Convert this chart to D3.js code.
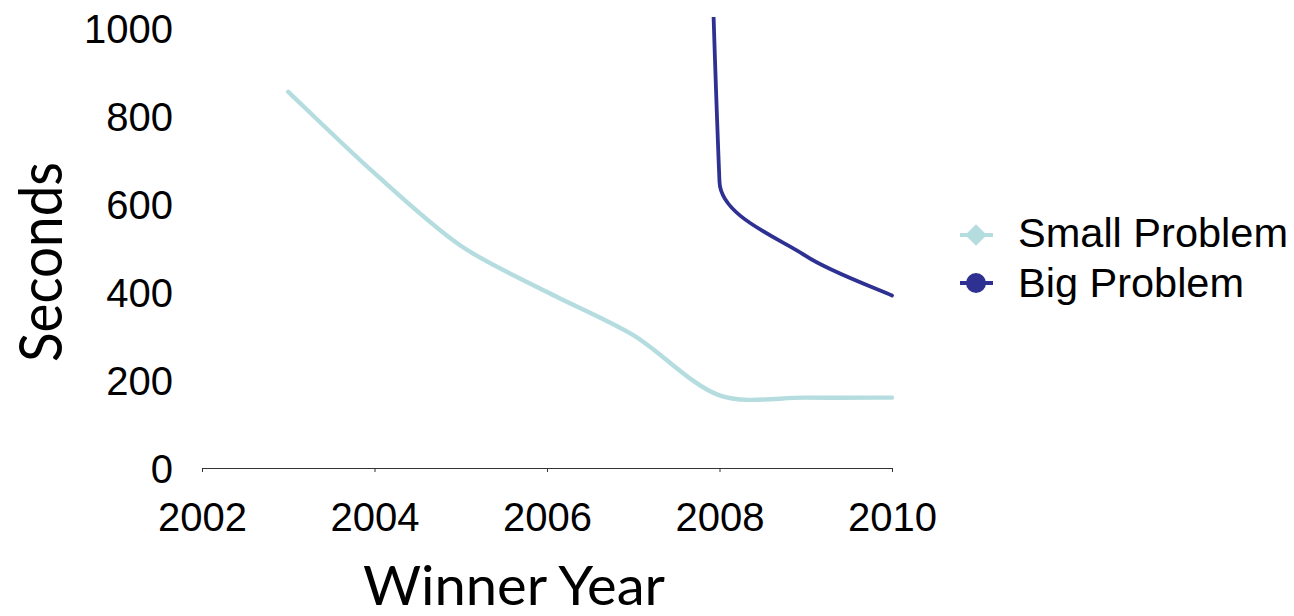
<!DOCTYPE html>
<html>
<head>
<meta charset="utf-8">
<script src="https://cdn.jsdelivr.net/npm/d3@7"></script>
<style>
  html, body { margin: 0; padding: 0; background: #fff; }
  svg { display: block; }
</style>
</head>
<body>
<svg id="chart" width="1294" height="616"></svg>
<script>
// Winning solver times per year (seconds)
const years = [2003, 2004, 2005, 2006, 2007, 2008, 2009, 2010];
const smallProblem = [855, 670, 505, 400, 302, 165, 160, 160];
const bigYears = [2007, 2008, 2009, 2010];
const bigProblem = [10000, 650, 482, 392];
const xTicks = [2002, 2004, 2006, 2008, 2010];
const yTicks = [0, 200, 400, 600, 800, 1000];
const seriesNames = ["Small Problem", "Big Problem"];
const seriesColors = ["#b5dde0", "#2e3192"];

const svg = d3.select("#chart");
const tickFont = "'Liberation Sans', Arial, Helvetica, sans-serif";
const titleFont = "Lato, 'Open Sans', sans-serif";

const x = d3.scaleLinear().domain([2002, 2010]).range([202, 892]);
const y = d3.scaleLinear().domain([0, 1000]).range([468, 28]);

// Spreadsheet-style smoothing: Catmull-Rom tangents whose control arms
// are capped relative to the length of the segment they belong to.
function smoothCapped(context) {
  let pts = [];
  const cap = 0.3;
  return {
    areaStart() {}, areaEnd() {},
    lineStart() { pts = []; },
    point(px, py) { pts.push([+px, +py]); },
    lineEnd() {
      if (!pts.length) return;
      context.moveTo(pts[0][0], pts[0][1]);
      for (let i = 0; i < pts.length - 1; i++) {
        const p0 = pts[i - 1] || pts[i];
        const p1 = pts[i], p2 = pts[i + 1];
        const p3 = pts[i + 2] || pts[i + 1];
        const chord = Math.hypot(p2[0] - p1[0], p2[1] - p1[1]);
        const arm = (a, b) => {
          let dx = (b[0] - a[0]) / 6, dy = (b[1] - a[1]) / 6;
          const len = Math.hypot(dx, dy), max = cap * chord;
          if (len > max && len > 0) { dx *= max / len; dy *= max / len; }
          return [dx, dy];
        };
        const t1 = arm(p0, p2), t2 = arm(p1, p3);
        context.bezierCurveTo(p1[0] + t1[0], p1[1] + t1[1],
                              p2[0] - t2[0], p2[1] - t2[1],
                              p2[0], p2[1]);
      }
    }
  };
}

// plot clipping region
svg.append("defs").append("clipPath").attr("id", "plotClip")
  .append("rect").attr("x", 0).attr("y", 17).attr("width", 940).attr("height", 500);

// x axis
const xAxis = svg.append("g")
  .attr("transform", `translate(0,${y(0)})`)
  .call(d3.axisBottom(x).tickValues(xTicks).tickFormat(d3.format("d"))
        .tickSizeInner(4).tickSizeOuter(0).tickPadding(30));
xAxis.select(".domain").attr("stroke", "#333").attr("stroke-width", 1.2);
xAxis.selectAll(".tick line").attr("stroke", "#333").attr("stroke-width", 1);
xAxis.selectAll(".tick text")
  .attr("font-family", tickFont).attr("font-size", 40).attr("fill", "#000")
  .attr("dy", "0.71em").attr("y", 35);

// y axis (labels only)
const yAxis = svg.append("g")
  .attr("transform", "translate(173,0)")
  .call(d3.axisLeft(y).tickValues(yTicks).tickFormat(d3.format("d"))
        .tickSize(0).tickPadding(0));
yAxis.select(".domain").remove();
yAxis.selectAll(".tick text")
  .attr("font-family", tickFont).attr("font-size", 40).attr("fill", "#000")
  .attr("dy", "0.36em");

// series lines
const line = d3.line()
  .x(d => x(d[0])).y(d => y(d[1]))
  .curve(smoothCapped);

const plot = svg.append("g").attr("clip-path", "url(#plotClip)");
plot.append("path")
  .datum(years.map((yr, i) => [yr, smallProblem[i]]))
  .attr("d", line).attr("fill", "none")
  .attr("stroke", seriesColors[0]).attr("stroke-width", 4.4)
  .attr("stroke-linecap", "round");
plot.append("path")
  .datum(bigYears.map((yr, i) => [yr, bigProblem[i]]))
  .attr("d", line).attr("fill", "none")
  .attr("stroke", seriesColors[1]).attr("stroke-width", 3.8)
  .attr("stroke-linecap", "round");

// legend
const legend = svg.append("g");
const legendRows = [247, 297];
seriesNames.forEach((name, i) => {
  const g = legend.append("g").attr("transform", `translate(0,${legendRows[i]})`);
  const cy = i === 0 ? -12 : -14;
  g.append("line").attr("x1", 960).attr("x2", 993).attr("y1", cy).attr("y2", cy)
    .attr("stroke", seriesColors[i]).attr("stroke-width", 4);
  if (i === 0) {
    g.append("path")
      .attr("d", d3.symbol(d3.symbolDiamond2, 300)())
      .attr("transform", `translate(976,${cy})`)
      .attr("fill", seriesColors[i]);
  } else {
    g.append("circle").attr("cx", 976).attr("cy", cy).attr("r", 10)
      .attr("fill", seriesColors[i]);
  }
  g.append("text").attr("x", 1018).attr("y", 0)
    .attr("font-family", tickFont).attr("font-size", 40).attr("fill", "#000")
    .attr("textLength", i === 0 ? 270 : 226).attr("lengthAdjust", "spacingAndGlyphs")
    .text(name);
});

// axis titles
svg.append("text")
  .attr("x", 514).attr("y", 605)
  .attr("text-anchor", "middle")
  .attr("font-family", titleFont).attr("font-size", 54).attr("fill", "#000")
  .attr("textLength", 302).attr("lengthAdjust", "spacingAndGlyphs")
  .text("Winner Year");

svg.append("text")
  .attr("transform", "translate(62,262) rotate(-90)")
  .attr("text-anchor", "middle")
  .attr("font-family", titleFont).attr("font-size", 60).attr("fill", "#000")
  .attr("textLength", 200).attr("lengthAdjust", "spacingAndGlyphs")
  .text("Seconds");
</script>
</body>
</html>
